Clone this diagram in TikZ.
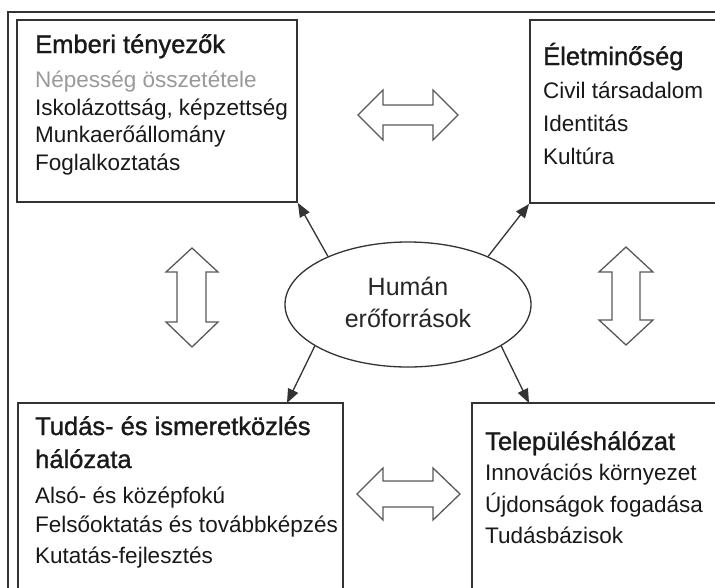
\documentclass[tikz,border=0pt]{standalone}
\usepackage{fontspec}
\setmainfont{Liberation Sans}
\newfontfamily\titlefont[FakeBold=1.2]{Liberation Sans}
\usetikzlibrary{arrows.meta,shapes.geometric}
\begin{document}
\begin{tikzpicture}[x=1pt,y=-1pt,
  boxst/.style={draw=black!80, line width=1.8pt, rectangle, inner sep=0pt},
  ttl/.style={anchor=base west, inner sep=0pt, font=\titlefont\fontsize{25.5}{30}\selectfont, text=black!90},
  itm/.style={anchor=base west, inner sep=0pt, font=\fontsize{22.5}{27}\selectfont, text=black!90},
  ctr/.style={anchor=base, inner sep=0pt, font=\fontsize{25}{30}\selectfont, text=black!85},
  dbl/.style={draw=black!65, line width=1.3pt, fill=white, line join=miter},
  conn/.style={draw=black!80, line width=1.3pt, -{Triangle[length=14pt,width=11pt]}}]
\useasboundingbox (0,0) rectangle (715,587);
\clip (0,0) rectangle (715,587);
% outer frame
\draw[black!80, line width=1.8pt] (8,12) rectangle (760,640);
% boxes
\node[boxst, fill=white, minimum width=280pt, minimum height=182pt] (tl) at (157,111) {};
\node[boxst, fill=white, minimum width=230pt, minimum height=183pt] (tr) at (645,111.5) {};
\node[boxst, fill=white, minimum width=325pt, minimum height=237pt] (bl) at (180.5,521.5) {};
\node[boxst, fill=white, minimum width=288pt, minimum height=237pt] (br) at (616,521.5) {};
% ellipse
\node[draw=black!80, line width=1.3pt, ellipse, minimum width=246pt, minimum height=125pt, inner sep=0pt] (hr) at (408,304.5) {};
\node[ctr] (hr1) at (408,295) {Humán};
\node[ctr] (hr2) at (408,327) {erőforrások};
% texts top-left
\node[ttl] (t1) at (35,53) {Emberi tényezők};
\node[itm, text=black!40] (t1a) at (35,87) {Népesség összetétele};
\node[itm] (t1b) at (35,115) {Iskolázottság, képzettség};
\node[itm] (t1c) at (35,142) {Munkaerőállomány};
\node[itm] (t1d) at (35,170) {Foglalkoztatás};
% top-right
\node[ttl] (t2) at (543,65) {Életminőség};
\node[itm] (t2a) at (543,98) {Civil társadalom};
\node[itm] (t2b) at (543,131) {Identitás};
\node[itm] (t2c) at (543,164) {Kultúra};
% bottom-left
\node[ttl] (t3) at (35,435) {Tudás- és ismeretközlés};
\node[ttl] (t3x) at (35,468) {hálózata};
\node[itm] (t3a) at (35,503) {Alsó- és középfokú};
\node[itm] (t3b) at (35,532) {Felsőoktatás és továbbképzés};
\node[itm] (t3c) at (35,563) {Kutatás-fejlesztés};
% bottom-right
\node[ttl] (t4) at (485,450) {Településhálózat};
\node[itm] (t4a) at (485,480) {Innovációs környezet};
\node[itm] (t4b) at (485,512) {Újdonságok fogadása};
\node[itm] (t4c) at (485,543) {Tudásbázisok};
% double arrows
\draw[dbl] (358,115) -- (383,90) -- (383,105) -- (433,105) -- (433,90) -- (458,115) -- (433,140) -- (433,125) -- (383,125) -- (383,140) -- cycle;
\draw[dbl] (357,494) -- (383,468) -- (383,481) -- (433,481) -- (433,468) -- (460,494) -- (433,520) -- (433,507) -- (383,507) -- (383,520) -- cycle;
\draw[dbl] (192,248) -- (218,272) -- (206,272) -- (206,322) -- (218,322) -- (192,347) -- (166,322) -- (177,322) -- (177,272) -- (166,272) -- cycle;
\draw[dbl] (626,247) -- (653,272) -- (640,272) -- (640,320) -- (653,320) -- (626,345) -- (599,320) -- (612,320) -- (612,272) -- (599,272) -- cycle;
% connectors
\coordinate (blt) at (287,403);
\coordinate (brt) at (529,403);
\draw[conn] (hr.149) -- (tl.south east);
\draw[conn] (hr.31) -- (tr.south west);
\draw[conn] (hr.204) -- (blt);
\draw[conn] (hr.-24) -- (brt);
\end{tikzpicture}
\end{document}
